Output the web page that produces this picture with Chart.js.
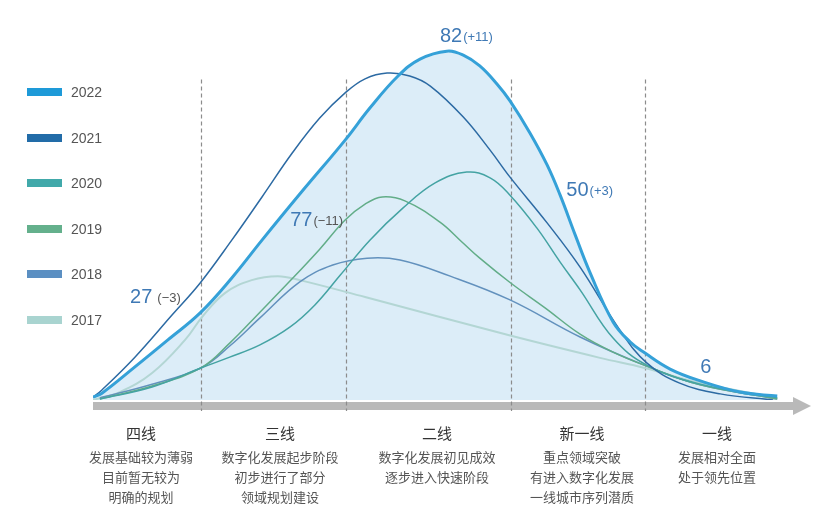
<!DOCTYPE html>
<html lang="zh">
<head>
    <meta charset="UTF-8">
    <title>城市数字化发展分布</title>
    <script src="https://cdn.jsdelivr.net/npm/chart.js"></script>
    <style>
        body {
            margin: 0;
            background: #fff;
            font-family: "Liberation Sans", Arial, sans-serif;
        }
        .wrap {
            position: relative;
            width: 830px;
            height: 518px;
        }
        #chart {
            position: absolute;
            left: 0;
            top: 0;
        }
        .legend-item {
            position: absolute;
            left: 27px;
            height: 20px;
            line-height: 20px;
            font-size: 14px;
            color: #555;
        }
        .legend-item span {
            display: inline-block;
            width: 35px;
            height: 8px;
            margin-right: 9px;
            vertical-align: middle;
            position: relative;
            top: -1px;
        }
        .tier {
            position: absolute;
            width: 170px;
            margin-left: -85px;
            text-align: center;
            font-family: "Noto Sans CJK SC", sans-serif;
        }
        .tier .name {
            font-size: 15px;
            line-height: 20px;
            color: #333;
        }
        .tier .desc {
            margin-top: 4px;
            font-size: 13px;
            line-height: 20px;
            color: #555;
        }
    </style>
</head>
<body>
<div class="wrap" id="wrap">
    <canvas id="chart" width="830" height="518"></canvas>
</div>

<script>
// 横轴 0-100 为城市梯队方向的位置，纵轴 0-100 为相对数量
const years = ['2022', '2021', '2020', '2019', '2018', '2017'];

const curve2022 = [[0, 0.8], [1.3, 1.9], [6.1, 9.2], [10.9, 16.7], [15.6, 24.2], [20.2, 33.9], [24.6, 44.4],
    [30.1, 57.2], [36.7, 72.2], [40.3, 81.1], [44.4, 90], [47.6, 94.7], [51.5, 96.9], [53.9, 95.8],
    [56.3, 92.8], [58.8, 87.8], [60.7, 83.1], [63.6, 74.2], [66.1, 65.3], [68.0, 56.9], [70.2, 45.8],
    [72.3, 35.6], [75.7, 21.7], [78.2, 16.1], [80.3, 13.1], [84.0, 8.6], [88.4, 5.3], [94.2, 2.2], [99.6, 1.1]];
const curve2021 = [[0, 0.8], [1.3, 2.8], [6.1, 11.9], [11.5, 23.6], [15.6, 32.5], [20.2, 44.4], [24.6, 56.4],
    [29.0, 68.6], [33.0, 78.3], [36.7, 85.3], [39.6, 89.2], [42.8, 90.8], [46.1, 90], [49.1, 87.2],
    [53.9, 78.6], [57.8, 69.4], [60.7, 61.9], [66.1, 49.2], [70.9, 36.9], [76.7, 19.4], [80.6, 10.3],
    [85.4, 4.7], [91.3, 1.7], [99.0, 0]];
const curve2020 = [[1.0, 0.3], [8.6, 3.6], [15.7, 8.9], [19.9, 11.9], [24.3, 15.3], [28.7, 20.3], [32.3, 26.4],
    [36.0, 34.7], [40.3, 44.4], [45.1, 53.3], [49.8, 60.3], [54.4, 63.3], [57.8, 61.7], [60.7, 56.9],
    [64.6, 47.8], [68.0, 38.3], [70.9, 30.6], [75.7, 17.2], [80.6, 9.7], [88.4, 4.4], [99.6, 0.6]];
const curve2019 = [[1.0, 0.3], [8.6, 3.9], [15.7, 8.9], [19.9, 15.8], [24.3, 24.4], [28.7, 33.1], [33.0, 41.9],
    [36.7, 50], [39.6, 54.4], [42.1, 56.4], [45.4, 55.3], [50.5, 49.4], [53.7, 43.9], [56.3, 39.4],
    [60.8, 32.5], [65.8, 25.6], [70.9, 18.3], [75.7, 13.3], [80.6, 9.4], [88.4, 4.2], [99.6, 0.3]];
const curve2018 = [[1.0, 0.6], [8.6, 4.4], [15.7, 8.9], [19.9, 15], [24.3, 22.8], [30.1, 32.8], [34.9, 37.5],
    [39.9, 39.4], [44.7, 38.9], [52.0, 34.4], [60.7, 27.8], [70.9, 17.5], [80.6, 9.4], [88.4, 4.2], [99.6, 0.3]];
const curve2017 = [[0, 0], [3.9, 2.2], [8.6, 7.5], [13.4, 16.7], [15.9, 23.1], [19.2, 29.7], [23.1, 33.3],
    [26.9, 34.4], [30.1, 33.3], [39.6, 28.6], [60.3, 18.1], [73.8, 11.7], [80.3, 8.9], [88.4, 4.7], [99.6, 0.6]];

const tierNames = ['四线', '三线', '二线', '新一线', '一线'];
const tierDescs = [
    ['发展基础较为薄弱', '目前暂无较为', '明确的规划'],
    ['数字化发展起步阶段', '初步进行了部分', '领域规划建设'],
    ['数字化发展初见成效', '逐步进入快速阶段'],
    ['重点领域突破', '有进入数字化发展', '一线城市序列潜质'],
    ['发展相对全面', '处于领先位置']
];
const tierBounds = [15.7, 36.8, 60.8, 80.3];
const counts2022 = [27, 77, 82, 50, 6];
const deltas = ['(−3)', '(−11)', '(+11)', '(+3)', ''];

// 样式与位置
const lineColors = ['#35a1d8', '#2c6aa3', '#44a3a3', '#62ad88', '#6291bd', '#b3d6d4'];
const swatchColors = ['#1e9ad8', '#226ca8', '#41a9aa', '#64b08c', '#5b8fc2', '#a9d4d0'];
const lineWidths = [3, 1.5, 1.5, 1.5, 1.5, 2];
const legendY = [92, 138, 183, 229, 274, 320];
const tierCenterX = [141, 280, 437, 582, 717];
const labelPos = [[5.4, 28.6], [28.7, 50], [50.5, 101.1], [68.9, 58.3], [88.4, 8.9]];
const labelGap = [5, 1, 1, 1, 0];

const curves = [curve2022, curve2021, curve2020, curve2019, curve2018, curve2017];

const wrap = document.getElementById('wrap');
years.forEach(function (y, i) {
    const el = document.createElement('div');
    el.className = 'legend-item';
    el.style.top = (legendY[i] - 10) + 'px';
    el.innerHTML = '<span style="background:' + swatchColors[i] + '"></span>' + y;
    wrap.appendChild(el);
});
tierNames.forEach(function (n, i) {
    const el = document.createElement('div');
    el.className = 'tier';
    el.style.left = tierCenterX[i] + 'px';
    el.style.top = '423px';
    el.innerHTML = '<div class="name">' + n + '</div><div class="desc">' + tierDescs[i].join('<br>') + '</div>';
    wrap.appendChild(el);
});

const decor = {
    id: 'decor',
    beforeDatasetsDraw(chart) {
        const c = chart.ctx;
        const xs = chart.scales.x, ys = chart.scales.y;
        const left = xs.getPixelForValue(0);
        // 底部灰色箭头
        c.save();
        c.fillStyle = '#b9b9b9';
        c.fillRect(left, 402, 700, 8);
        c.beginPath();
        c.moveTo(left + 700, 397);
        c.lineTo(left + 718, 406);
        c.lineTo(left + 700, 415);
        c.closePath();
        c.fill();
        // 梯队分隔虚线
        c.strokeStyle = '#8c8c8c';
        c.lineWidth = 1.2;
        c.setLineDash([4, 3]);
        tierBounds.forEach(function (b) {
            const x = Math.round(xs.getPixelForValue(b)) + 0.5;
            c.beginPath();
            c.moveTo(x, ys.getPixelForValue(89));
            c.lineTo(x, 411);
            c.stroke();
        });
        c.restore();
    },
    afterDatasetsDraw(chart) {
        const c = chart.ctx;
        const xs = chart.scales.x, ys = chart.scales.y;
        c.save();
        c.textBaseline = 'middle';
        c.textAlign = 'left';
        counts2022.forEach(function (n, i) {
            const x = xs.getPixelForValue(labelPos[i][0]);
            const y = ys.getPixelForValue(labelPos[i][1]);
            c.font = '20px "Liberation Sans", Arial, sans-serif';
            c.fillStyle = '#3f79b5';
            c.fillText(String(n), x, y);
            const w = c.measureText(String(n)).width;
            if (deltas[i]) {
                c.font = '13px "Liberation Sans", Arial, sans-serif';
                c.fillStyle = deltas[i].indexOf('+') >= 0 ? '#3f79b5' : '#555';
                c.fillText(deltas[i], x + w + labelGap[i], y + 1);
            }
        });
        c.restore();
    }
};

new Chart(document.getElementById('chart'), {
    type: 'line',
    data: {
        datasets: years.map(function (y, i) {
            return {
                label: y,
                data: curves[i].map(function (p) { return {x: p[0], y: p[1]}; }),
                borderColor: lineColors[i],
                borderWidth: lineWidths[i],
                fill: i === 0 ? 'origin' : false,
                backgroundColor: i === 0 ? '#dcedf8' : 'transparent',
                pointRadius: 0,
                tension: 0.4
            };
        })
    },
    options: {
        responsive: false,
        animation: false,
        layout: {padding: {left: 93, right: 50, top: 40, bottom: 118}},
        scales: {
            x: {type: 'linear', min: 0, max: 100, display: false},
            y: {min: 0, max: 100, display: false}
        },
        plugins: {
            legend: {display: false},
            tooltip: {enabled: false},
            filler: {drawTime: 'beforeDatasetsDraw'}
        }
    },
    plugins: [decor]
});
</script>
</body>
</html>
